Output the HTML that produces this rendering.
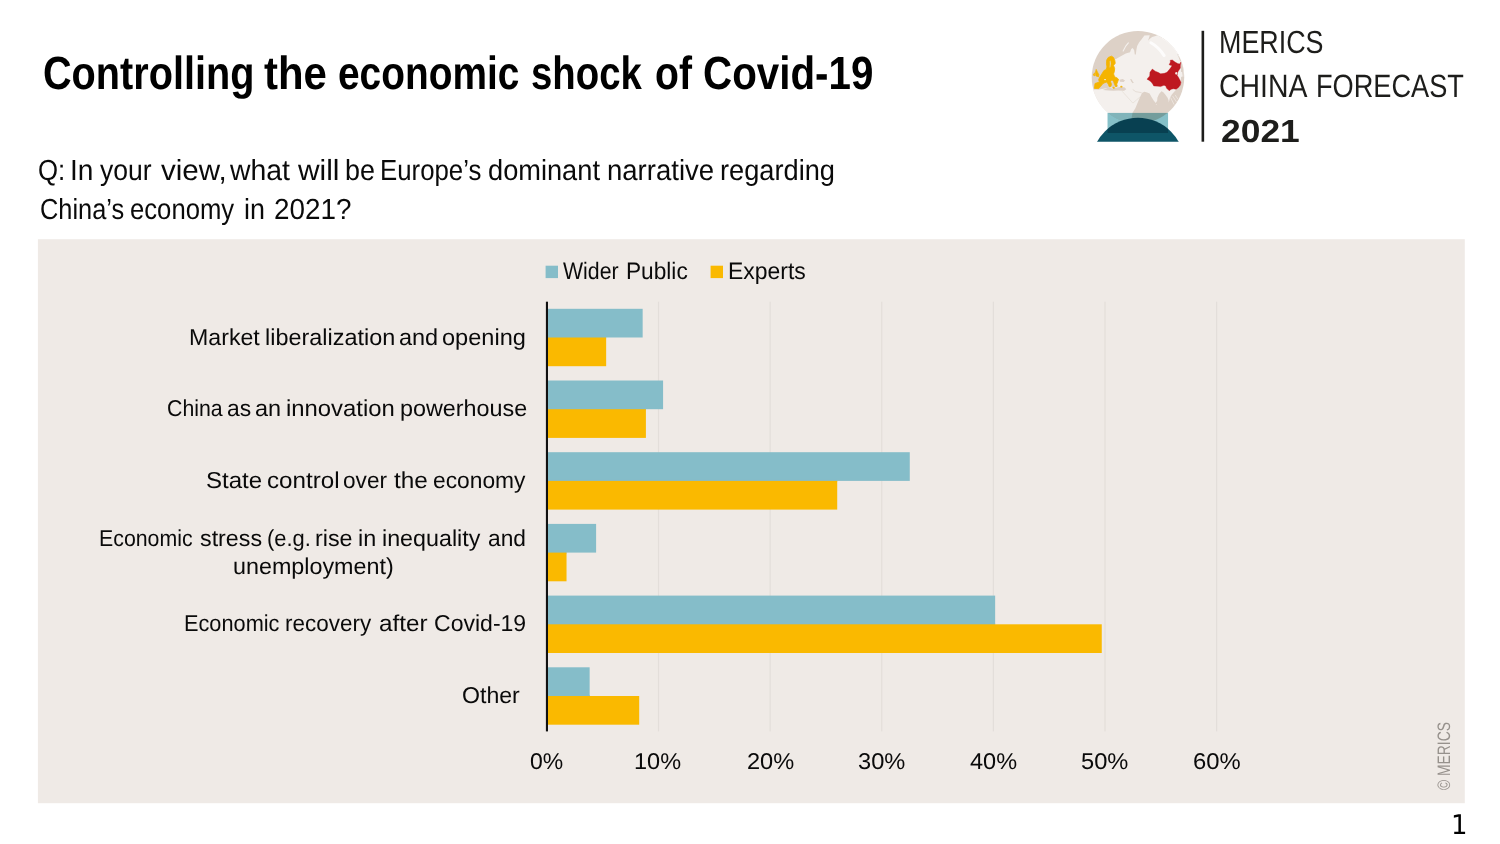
<!DOCTYPE html>
<html lang="en"><head><meta charset="utf-8"><title>Controlling the economic shock of Covid-19</title>
<style>
html,body{margin:0;padding:0;background:#fff;}
body{width:1500px;height:844px;position:relative;overflow:hidden;font-family:"Liberation Sans",sans-serif;text-rendering:geometricPrecision;}
.ln{position:absolute;left:0;width:1500px;height:1em;white-space:nowrap;line-height:1;}
.ln span{position:absolute;top:0;white-space:nowrap;line-height:1;transform-origin:0 0;}
.copy{position:absolute;left:1434.8px;top:790px;font-size:18px;line-height:1;color:#96918c;white-space:nowrap;transform-origin:0 0;transform:rotate(-90deg) scaleX(0.77);}
.pn{position:absolute;left:1450.6px;top:811.5px;font-size:27px;line-height:1;color:#000;font-family:"DejaVu Sans","Liberation Sans",sans-serif;transform-origin:0 0;transform:scaleX(0.96);}
.chart{position:absolute;left:0;top:0;}
.globe{position:absolute;left:1085px;top:25px;width:105px;height:120px;}
</style></head><body>
<svg class="chart" width="1500" height="844" viewBox="0 0 1500 844">
<rect x="37.9" y="239.2" width="1426.9" height="564" fill="#efeae6"/>
<rect x="657.92" y="301.7" width="1.2" height="429.7" fill="#e3deda"/>
<rect x="769.54" y="301.7" width="1.2" height="429.7" fill="#e3deda"/>
<rect x="881.16" y="301.7" width="1.2" height="429.7" fill="#e3deda"/>
<rect x="992.78" y="301.7" width="1.2" height="429.7" fill="#e3deda"/>
<rect x="1104.40" y="301.7" width="1.2" height="429.7" fill="#e3deda"/>
<rect x="1216.02" y="301.7" width="1.2" height="429.7" fill="#e3deda"/>
<rect x="547" y="308.80" width="95.66" height="28.7" fill="#85bdc9"/>
<rect x="547" y="336.50" width="59.16" height="2" fill="#85bdc9"/>
<rect x="547" y="337.50" width="59.16" height="28.7" fill="#fab900"/>
<rect x="547" y="380.50" width="116.08" height="28.7" fill="#85bdc9"/>
<rect x="547" y="408.20" width="98.90" height="2" fill="#85bdc9"/>
<rect x="547" y="409.20" width="98.90" height="28.7" fill="#fab900"/>
<rect x="547" y="452.20" width="362.76" height="28.7" fill="#85bdc9"/>
<rect x="547" y="479.90" width="290.21" height="2" fill="#85bdc9"/>
<rect x="547" y="480.90" width="290.21" height="28.7" fill="#fab900"/>
<rect x="547" y="523.90" width="49.11" height="28.7" fill="#85bdc9"/>
<rect x="547" y="551.60" width="19.53" height="2" fill="#85bdc9"/>
<rect x="547" y="552.60" width="19.53" height="28.7" fill="#fab900"/>
<rect x="547" y="595.60" width="448.15" height="28.7" fill="#85bdc9"/>
<rect x="547" y="623.30" width="448.15" height="2" fill="#85bdc9"/>
<rect x="547" y="624.30" width="554.75" height="28.7" fill="#fab900"/>
<rect x="547" y="667.30" width="42.64" height="28.7" fill="#85bdc9"/>
<rect x="547" y="695.00" width="42.64" height="2" fill="#85bdc9"/>
<rect x="547" y="696.00" width="92.20" height="28.7" fill="#fab900"/>
<rect x="545.9" y="301.7" width="2.1" height="429.7" fill="#111"/>
<rect x="545.6" y="265.7" width="12.4" height="12.4" fill="#85bdc9"/>
<rect x="710.6" y="265.7" width="12.4" height="12.4" fill="#fab900"/>
<rect x="1201.55" y="30.8" width="2.6" height="110.9" fill="#1d1d1b"/>
</svg>
<div class="ln" id="title" style="top:49.94px;font-size:46.51px;font-weight:700;color:#000"><span style="left:42.84px;transform:scaleX(0.8524)">Controlling</span> <span style="left:264.04px;transform:scaleX(0.9017)">the</span> <span style="left:338.42px;transform:scaleX(0.8353)">economic</span> <span style="left:531.11px;transform:scaleX(0.8246)">shock</span> <span style="left:654.66px;transform:scaleX(0.8408)">of</span> <span style="left:703.22px;transform:scaleX(0.8676)">Covid-19</span></div>
<div class="ln" id="sub1" style="top:156.96px;font-size:29.07px;font-weight:400;color:#0a0a0a"><span style="left:38.24px;transform:scaleX(0.8864)">Q:</span> <span style="left:69.92px;transform:scaleX(0.9656)">In</span> <span style="left:100.36px;transform:scaleX(0.9127)">your</span> <span style="left:160.51px;transform:scaleX(1.0172)">view,</span> <span style="left:230.11px;transform:scaleX(0.9771)">what</span> <span style="left:297.90px;transform:scaleX(1.0277)">will</span> <span style="left:345.43px;transform:scaleX(0.9261)">be</span> <span style="left:380.43px;transform:scaleX(0.8881)">Europe’s</span> <span style="left:488.38px;transform:scaleX(0.9364)">dominant</span> <span style="left:607.28px;transform:scaleX(0.9472)">narrative</span> <span style="left:720.33px;transform:scaleX(0.9366)">regarding</span></div>
<div class="ln" id="sub2" style="top:195.96px;font-size:29.07px;font-weight:400;color:#0a0a0a"><span style="left:39.64px;transform:scaleX(0.8727)">China’s</span> <span style="left:130.35px;transform:scaleX(0.8833)">economy</span> <span style="left:244.08px;transform:scaleX(0.9254)">in</span> <span style="left:273.61px;transform:scaleX(0.9577)">2021?</span></div>
<div class="ln" id="lg1" style="top:25.99px;font-size:31.98px;font-weight:400;color:#1d1d1b"><span style="left:1219.45px;transform:scaleX(0.8408)">MERICS</span></div>
<div class="ln" id="lg2" style="top:70.00px;font-size:32.27px;font-weight:400;color:#1d1d1b"><span style="left:1218.68px;transform:scaleX(0.8810)">CHINA</span> <span style="left:1315.60px;transform:scaleX(0.8414)">FORECAST</span></div>
<div class="ln" id="lg3" style="top:116.00px;font-size:31.83px;font-weight:700;color:#1d1d1b"><span style="left:1220.64px;transform:scaleX(1.1127)">2021</span></div>
<div class="ln" id="leg" style="top:260.01px;font-size:23.84px;font-weight:400;color:#0a0a0a"><span style="left:563.35px;transform:scaleX(0.8932)">Wider</span> <span style="left:626.02px;transform:scaleX(0.9513)">Public</span> <span style="left:728.37px;transform:scaleX(0.9627)">Experts</span></div>
<div class="ln" id="c1" style="top:326.00px;font-size:22.97px;font-weight:400;color:#0a0a0a"><span style="left:188.59px;transform:scaleX(1.0083)">Market</span> <span style="left:264.94px;transform:scaleX(1.0199)">liberalization</span> <span style="left:399.18px;transform:scaleX(1.0220)">and</span> <span style="left:442.17px;transform:scaleX(1.0267)">opening</span></div>
<div class="ln" id="c2" style="top:397.00px;font-size:22.97px;font-weight:400;color:#0a0a0a"><span style="left:166.56px;transform:scaleX(0.9271)">China</span> <span style="left:227.14px;transform:scaleX(0.9954)">as</span> <span style="left:255.06px;transform:scaleX(1.0213)">an</span> <span style="left:286.35px;transform:scaleX(1.0386)">innovation</span> <span style="left:399.58px;transform:scaleX(1.0166)">powerhouse</span></div>
<div class="ln" id="c3" style="top:469.00px;font-size:22.97px;font-weight:400;color:#0a0a0a"><span style="left:205.93px;transform:scaleX(1.0474)">State</span> <span style="left:266.53px;transform:scaleX(1.0525)">control</span> <span style="left:343.26px;transform:scaleX(0.9843)">over</span> <span style="left:393.91px;transform:scaleX(1.0619)">the</span> <span style="left:432.79px;transform:scaleX(0.9922)">economy</span></div>
<div class="ln" id="c4a" style="top:527.00px;font-size:22.97px;font-weight:400;color:#0a0a0a"><span style="left:99.30px;transform:scaleX(0.9281)">Economic</span> <span style="left:200.46px;transform:scaleX(1.0124)">stress</span> <span style="left:267.16px;transform:scaleX(0.9550)">(e.g.</span> <span style="left:314.64px;transform:scaleX(1.0151)">rise</span> <span style="left:358.35px;transform:scaleX(1.0193)">in</span> <span style="left:381.82px;transform:scaleX(1.0138)">inequality</span> <span style="left:487.82px;transform:scaleX(0.9899)">and</span></div>
<div class="ln" id="c4b" style="top:555.00px;font-size:22.97px;font-weight:400;color:#0a0a0a"><span style="left:232.74px;transform:scaleX(1.0153)">unemployment)</span></div>
<div class="ln" id="c5" style="top:612.00px;font-size:22.97px;font-weight:400;color:#0a0a0a"><span style="left:183.83px;transform:scaleX(0.9466)">Economic</span> <span style="left:285.36px;transform:scaleX(0.9777)">recovery</span> <span style="left:379.32px;transform:scaleX(1.0566)">after</span> <span style="left:434.20px;transform:scaleX(1.0028)">Covid-19</span></div>
<div class="ln" id="c6" style="top:684.00px;font-size:22.97px;font-weight:400;color:#0a0a0a"><span style="left:461.75px;transform:scaleX(1.0064)">Other</span></div>
<div class="ln" id="tk" style="top:750.00px;font-size:22.82px;font-weight:400;color:#0a0a0a"><span style="left:530.07px;transform:scaleX(1.0072)">0%</span> <span style="left:634.35px;transform:scaleX(1.0299)">10%</span> <span style="left:746.59px;transform:scaleX(1.0339)">20%</span> <span style="left:857.73px;transform:scaleX(1.0358)">30%</span> <span style="left:970.18px;transform:scaleX(1.0300)">40%</span> <span style="left:1080.78px;transform:scaleX(1.0370)">50%</span> <span style="left:1192.81px;transform:scaleX(1.0436)">60%</span></div>
<svg class="globe" viewBox="0 0 886 1013">
<defs>
<clipPath id="gc"><circle cx="447" cy="442" r="392"/></clipPath>
<clipPath id="dc"><rect x="0" y="0" width="886" height="985"/></clipPath>
</defs>
<circle cx="447" cy="442" r="390.5" fill="#ddd1c7"/>
<g clip-path="url(#gc)">
<!-- land: Eurasia + Africa -->
<path fill="#f4f0ed" d="M236,288 L258,290 L294,268 L344,240 L380,230 L390,202 L402,195 L415,213 L420,248 L429,248 L433,213 L440,177 L456,147 L481,116 L501,89 L547,87 L539,111 L532,134 L547,116 L567,101 L602,90 L640,60 L900,60 L900,250 L796,250 L786,262 L800,300 L810,313 L810,484 L804,507 L786,529 L769,547 L753,563 L733,587 L717,615 L707,655 L705,635 L697,615 L677,587 L661,567 L645,559 L625,583 L611,615 L609,639 L597,659 L581,639 L561,607 L545,579 L525,569 L501,563 L481,575 L465,607 L445,655 L425,703 L401,741 L380,860 L0,860 L0,548 L120,545 L200,530 L283,520 L240,470 L225,330 Z"/>
<!-- Mediterranean -->
<path fill="#ddd1c7" d="M150,548 L200,528 L232,536 L262,530 L300,522 L336,528 L348,542 L330,556 L280,552 L240,556 L200,552 Z"/>
<path fill="#f4f0ed" d="M286,488 L320,484 L346,496 L340,516 L300,520 L282,508 Z"/>
<!-- Black sea -->
<path fill="#ddd1c7" d="M290,462 L318,456 L338,468 L326,482 L296,480 Z"/>
<!-- Caspian -->
<path fill="#ddd1c7" d="M381,456 L393,458 L402,474 L412,488 L402,492 L390,478 Z"/>
<!-- Red sea, Gulf of Aden, Persian gulf -->
<path fill="none" stroke="#e2d9d1" stroke-width="5" stroke-linejoin="round" d="M313,559 L404,659 L465,607"/>
<path fill="none" stroke="#e0d6cd" stroke-width="6" stroke-linejoin="round" d="M403,545 L429,563 L478,571"/>
<!-- Novaya Zemlya -->
<path fill="none" stroke="#f4f0ed" stroke-width="9" stroke-linecap="round" d="M322,220 L344,178 L366,151"/>
<!-- SE Asia islands -->
<path fill="none" stroke="#f4f0ed" stroke-width="5" d="M722,612 L752,672 M740,600 L772,650 M760,590 L784,626 M600,668 L606,676"/>
<!-- Korea / Japan -->
<path fill="#f4f0ed" d="M806,392 L820,398 L824,430 L814,442 L806,420 Z"/>
<path fill="none" stroke="#eee8e3" stroke-width="6" d="M826,330 Q838,380 826,440"/>
<circle cx="785" cy="251" r="6" fill="#d3cbc6"/>
<!-- Europe -->
<path fill="#f5b400" stroke="#f5b400" stroke-width="7" stroke-linejoin="round" d="M223,263 L241,274 L252,301 L255,323 L241,341 L250,368 L248,391 L241,413 L250,438 L268,445 L283,458 L277,476 L268,499 L270,517 L259,521 L250,503 L241,476 L228,463 L214,476 L223,499 L219,517 L205,521 L196,499 L183,481 L160,490 L147,499 L133,517 L115,537 L79,535 L84,494 L122,481 L115,463 L122,445 L142,413 L160,384 L178,377 L185,355 L181,328 L183,296 L196,274 Z"/>
<path fill="#f5b400" stroke="#f5b400" stroke-width="5" stroke-linejoin="round" d="M94,374 L106,398 L118,420 L114,438 L92,430 L86,404 Z M80,404 L68,422 L84,430 Z M236,524 L250,528 L246,536 L234,532 Z M300,518 L312,516 L314,524 L302,526 Z"/>
<!-- Baltic -->
<path fill="#e6cf9a" d="M208,304 L215,300 L220,325 L214,356 L207,358 L209,328 Z"/>
<ellipse cx="169" cy="461" rx="8" ry="6" fill="#f8f4f0"/>
<!-- China -->
<path fill="#be1820" stroke="#be1820" stroke-width="3" stroke-linejoin="round" d="M523,457 L546,430 L548,399 L568,372 L593,390 L620,401 L638,412 L670,408 L692,399 L715,372 L735,345 L710,336 L721,313 L719,298 L737,295 L760,313 L782,325 L798,329 L809,313 L805,345 L805,363 L791,385 L782,399 L778,426 L787,439 L800,462 L810,484 L805,507 L787,529 L769,543 L746,538 L728,543 L710,554 L699,543 L688,534 L683,516 L667,509 L638,520 L616,516 L580,514 L571,498 L557,480 L539,466 Z"/>
<ellipse cx="770" cy="408" rx="8" ry="12" fill="#f4ece6"/>
<!-- glossy highlight -->
<path fill="none" stroke="#fff" stroke-opacity="0.8" stroke-width="26" stroke-linecap="round" d="M556,150 Q620,185 668,258"/>
<path fill="none" stroke="#fff" stroke-opacity="0.5" stroke-width="7" stroke-linecap="round" d="M650,112 Q745,165 792,262"/>
</g>
<!-- stand -->
<g clip-path="url(#dc)"><circle cx="446" cy="1177" r="394" fill="#0e5567"/></g>
<rect x="190" y="742" width="511" height="170" fill="#86c0c8" style="mix-blend-mode:multiply"/>
</svg>

<div class="copy" id="copy">© MERICS</div>
<div class="pn" id="pn">1</div>
</body></html>
